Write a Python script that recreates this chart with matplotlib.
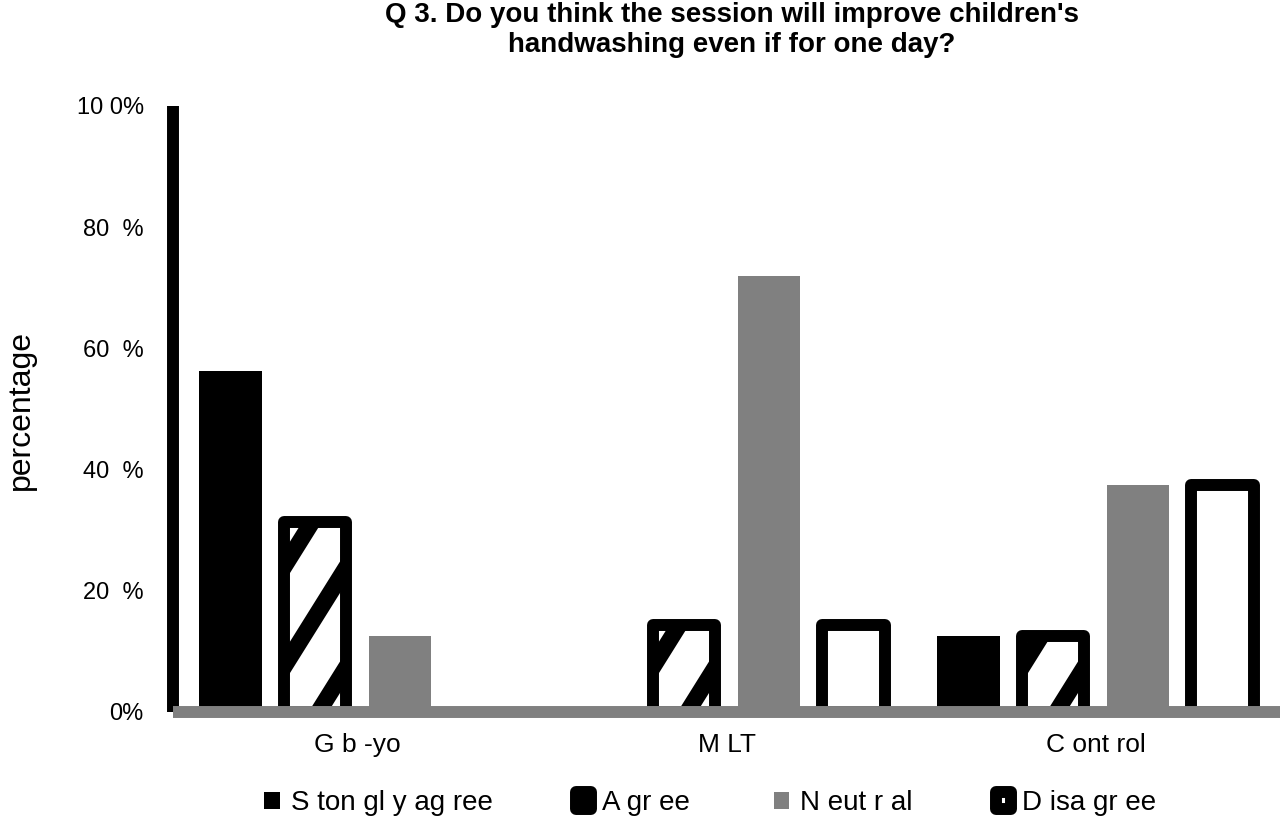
import matplotlib
matplotlib.use('Agg')
import matplotlib.pyplot as plt
import numpy as np
from matplotlib.lines import Line2D
from matplotlib.patches import Rectangle
from matplotlib.legend_handler import HandlerPatch
from matplotlib.transforms import IdentityTransform

groups = ['G b -yo', 'M LT', 'C ont rol']
strongly_agree = [56.3, 0, 12.5]
agree = [31.3, 14.3, 12.5]
neutral = [12.5, 72.0, 37.5]
disagree = [0, 14.3, 37.5]
legend_labels = ['S ton gl y ag ree', 'A gr ee', 'N eut r al', 'D isa gr ee']
yticks = [0, 20, 40, 60, 80, 100]
ytick_labels = ['0%', '20  %', '40  %', '60  %', '80  %', '10 0%']

plt.rcParams['font.family'] = ['Liberation Sans', 'DejaVu Sans']

fig = plt.figure(figsize=(12.8, 8.19), dpi=100)
ax = fig.add_axes([173 / 1280, 107 / 819, 1 - 173 / 1280, 606 / 819])

ix = np.arange(len(groups))
slot = 0.23
w = 0.17
lw = 8.6  # thick black outline (points)
grey = '#808080'

b_sa = ax.bar(ix - 1.5 * slot, strongly_agree, w, color='black', linewidth=0)
b_ag = ax.bar(ix - 0.5 * slot, agree, w, facecolor='white', edgecolor='black',
              linewidth=[lw if v > 0 else 0 for v in agree], joinstyle='round')
b_ne = ax.bar(ix + 0.5 * slot, neutral, w, color=grey, linewidth=0)
b_di = ax.bar(ix + 1.5 * slot, disagree, w, facecolor='white', edgecolor='black',
              linewidth=[lw if v > 0 else 0 for v in disagree], joinstyle='round')

ax.set_xlim(-0.5, len(groups) - 0.5)
ax.set_ylim(0, 100)

# spines
for s in ['top', 'right']:
    ax.spines[s].set_visible(False)
ax.spines['left'].set_linewidth(lw)
ax.spines['left'].set_color('black')
ax.spines['left'].set_capstyle('butt')
ax.spines['bottom'].set_linewidth(lw)
ax.spines['bottom'].set_color(grey)
ax.spines['bottom'].set_capstyle('butt')
ax.spines['bottom'].set_zorder(3)

ax.set_yticks(yticks)
ax.set_yticklabels(ytick_labels)
ax.set_xticks(ix)
ax.set_xticklabels(groups)
ax.tick_params(axis='y', length=0, pad=21, labelsize=17)
ax.tick_params(axis='x', length=0, pad=15, labelsize=19)

# diagonal stripes inside the "Agree" bars
period = 100
slope = 1.6
for rect, v in zip(b_ag, agree):
    if v <= 0:
        continue
    x0, y0 = ax.transData.transform((rect.get_x(), 0))
    x1, y1 = ax.transData.transform((rect.get_x() + rect.get_width(), v))
    bw = x1 - x0
    for k in range(-3, int((y1 - y0) / period) + 4):
        yc = y0 + 45 + k * period
        ln = Line2D([x0 - 10, x1 + 10], [yc - slope * (bw + 10), yc + slope * 10],
                    transform=IdentityTransform(), color='black', linewidth=12,
                    solid_capstyle='butt', zorder=1.5)
        ax.add_artist(ln)
        ln.set_clip_path(rect)

fig.text(0.016, 0.5, 'percentage', rotation=90, va='center', ha='center', fontsize=23)

fig.text(0.572, 0.997, "Q 3. Do you think the session will improve children's\n"
         "handwashing even if for one day?", ha='center', va='top',
         fontsize=20, fontweight='bold', linespacing=1.2)


def round_box(legend, orig_handle, xdescent, ydescent, width, height, fontsize):
    return Rectangle((-xdescent, -ydescent), width, height, joinstyle='round')


agree_proxy = Rectangle((0, 0), 1, 1, facecolor='black', edgecolor='black', linewidth=lw)
handles = [b_sa[0], agree_proxy, b_ne[0], b_di[1]]
fig.legend(handles, legend_labels, ncol=4,
           loc='lower center', bbox_to_anchor=(0.555, -0.027), frameon=False,
           handlelength=0.55, handleheight=0.55, handletextpad=0.4,
           columnspacing=3.0, prop={'size': 20},
           handler_map={agree_proxy: HandlerPatch(patch_func=round_box),
                        b_di[1]: HandlerPatch(patch_func=round_box)})

fig.savefig('out.png', dpi=100)
